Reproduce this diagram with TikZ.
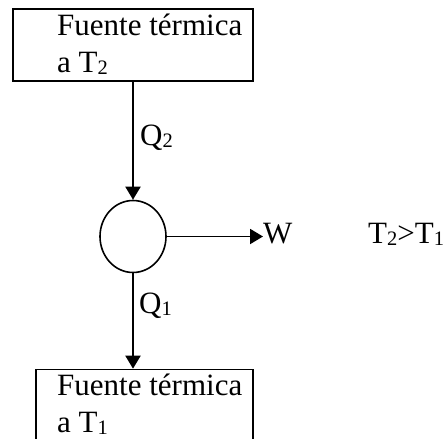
\documentclass[tikz,border=0pt]{standalone}
\usepackage{fontspec}
\setmainfont{Liberation Serif}
\usetikzlibrary{shapes.geometric,arrows.meta}
\newcommand\lowsub[1]{\raisebox{-2pt}{\fontsize{20.5}{20.5}\selectfont #1}}
\tikzset{
  txt/.style={inner sep=0pt, anchor=base west, font=\fontsize{31}{37}\selectfont},
  boxshape/.style={draw, line width=1.6pt, inner sep=0pt, minimum width=#1, minimum height=72pt},
  flow/.style={line width=1.9pt, -{Triangle[length=13pt,width=15pt]}}
}
\begin{document}
\begin{tikzpicture}[x=1pt,y=-1pt]
\useasboundingbox (0,0) rectangle (445,439);
\clip (0,0) rectangle (445,439);
% top reservoir
\node[boxshape=240pt] (hot) at (133,45) {};
\node[txt] (hottext) at (57,35) {\begin{tabular}[t]{@{}l@{}}Fuente térmica\\a T\lowsub{2}\end{tabular}};
% engine
\node[draw, ellipse, line width=1.6pt, inner sep=0pt, minimum width=66pt, minimum height=72pt] (eng) at (133,236.5) {};
% bottom reservoir
\node[boxshape=217pt] (cold) at (144.5,405.5) {};
\node[txt] (coldtext) at (57,395) {\begin{tabular}[t]{@{}l@{}}Fuente térmica\\a T\lowsub{1}\end{tabular}};
% labels
\node[txt] (w) at (263,243.3) {W};
\node[txt] (q2) at (140,145) {Q\lowsub{2}};
\node[txt] (q1) at (139,313) {Q\lowsub{1}};
\node[txt] (cond) at (368,243.3) {T\lowsub{2}>T\lowsub{1}};
% connectors
\draw[flow] (hot.south) -- (eng.north);
\draw[flow] (eng.south) -- (eng.south |- cold.north);
\draw[flow] (eng.east) -- (eng.east -| w.west);
\end{tikzpicture}
\end{document}
